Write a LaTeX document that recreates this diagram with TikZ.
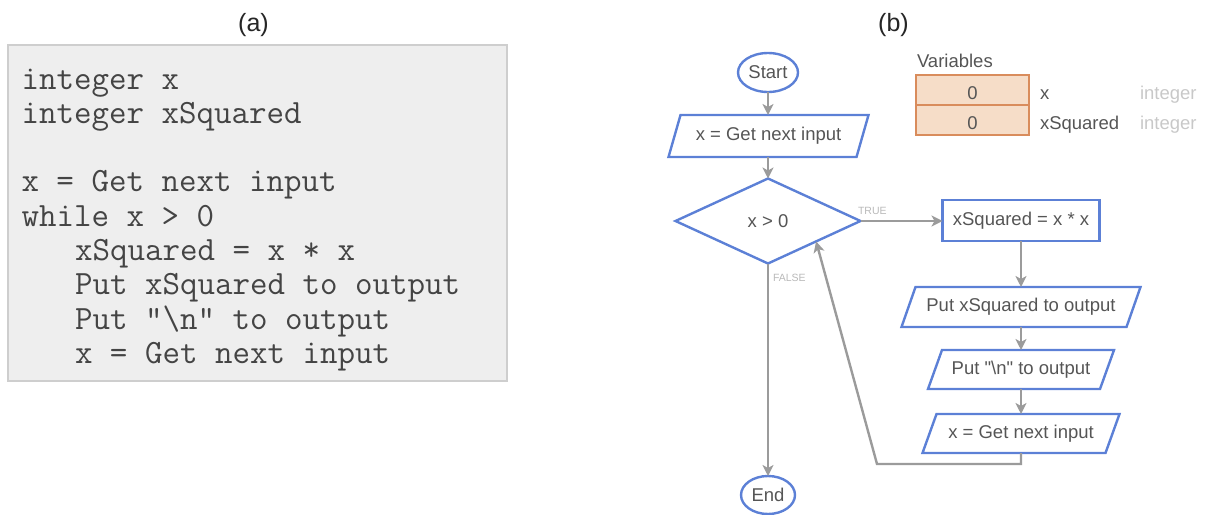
\documentclass[tikz,border=0pt]{standalone}
\usepackage{fontspec}
\setmainfont{Liberation Sans}
\usetikzlibrary{shapes.geometric,arrows.meta,calc}

\definecolor{flowblue}{RGB}{92,128,214}
\definecolor{linegray}{RGB}{155,155,155}
\definecolor{textgray}{RGB}{85,85,85}
\definecolor{codegray}{RGB}{68,68,68}
\definecolor{panelfill}{RGB}{238,238,238}
\definecolor{panelline}{RGB}{206,206,206}
\definecolor{varfill}{RGB}{246,221,200}
\definecolor{varline}{RGB}{217,140,92}
\definecolor{typegray}{RGB}{200,200,200}
\definecolor{labelgray}{RGB}{185,185,185}

% outline of an input/output parallelogram around a rectangular node
\newcommand{\slantframe}[2]{%
  \draw[ioline] ([xshift=#2]#1.north west) -- ([xshift=#2]#1.north east)
    -- ([xshift=-#2]#1.south east) -- ([xshift=-#2]#1.south west) -- cycle;}

\begin{document}
\begin{tikzpicture}[x=1pt,y=-1pt,
  every node/.style={inner sep=0pt, outer sep=0pt},
  codeline/.style={anchor=base west, font=\fontsize{34}{36}\ttfamily, text=codegray},
  caption/.style={anchor=base, font=\fontsize{25}{30}\selectfont, text=black!85},
  fltext/.style={font=\fontsize{18.5}{22}\selectfont, text=textgray},
  terminal/.style={fltext, ellipse, draw=flowblue, line width=2.4pt},
  process/.style={fltext, rectangle, draw=flowblue, line width=2.4pt},
  decision/.style={fltext, diamond, draw=flowblue, line width=2.4pt},
  iobox/.style={fltext, rectangle},
  ioline/.style={draw=flowblue, line width=2.4pt, line join=miter},
  flow/.style={draw=linegray, line width=2.4pt,
    -{Stealth[length=11pt,width=11pt,inset=3pt]}},
  branch/.style={anchor=base west, font=\fontsize{10.5}{12}\selectfont, text=labelgray},
  varcell/.style={fltext, draw=varline, fill=varfill, line width=2pt,
    minimum width=113, minimum height=30, text height=18pt, text depth=0pt},
  varname/.style={fltext, anchor=base west},
  vartype/.style={fltext, anchor=base west, text=typegray}
]
\useasboundingbox (0,0) rectangle (1210,514);

% ---------- (a) pseudocode ----------
\node[caption] (capa) at (253.5,31) {(a)};
\node[draw=panelline, fill=panelfill, line width=1.5pt, anchor=north west,
      minimum width=499, minimum height=336] (panel) at (8,45) {};
\node[codeline] (c1) at (21.5,89)    {integer x};
\node[codeline] (c2) at (21.5,123.3) {integer xSquared};
\node[codeline] (c3) at (21.5,191.9) {x = Get next input};
\node[codeline] (c4) at (21.5,226.2) {while x > 0};
\node[codeline] (c5) at (75,260.5)   {xSquared = x * x};
\node[codeline] (c6) at (75,294.8)   {Put xSquared to output};
\node[codeline] (c7) at (75,329.1)   {Put "\textbackslash n" to output};
\node[codeline] (c8) at (75,363.4)   {x = Get next input};

% ---------- (b) flowchart ----------
\node[caption] (capb) at (893.5,31) {(b)};

\node[terminal, minimum width=60, minimum height=39] (start) at (768,72.5) {Start};
\node[iobox, minimum width=188, minimum height=42] (in1) at (768.5,136) {x = Get next input};
\slantframe{in1}{6}
\node[decision, minimum width=185, minimum height=85] (test) at (768,221) {x > 0};
\node[process, minimum width=157, minimum height=41] (sq) at (1021,220.5) {xSquared = x * x};
\node[iobox, minimum width=225, minimum height=40] (out1) at (1021,307) {Put xSquared to output};
\slantframe{out1}{7}
\node[iobox, minimum width=172, minimum height=39] (out2) at (1021,369.5)
  {Put \textquotedbl\textbackslash n\textquotedbl{} to output};
\slantframe{out2}{7}
\node[iobox, minimum width=183, minimum height=39] (in2) at (1021,433.5) {x = Get next input};
\slantframe{in2}{7}
\node[terminal, minimum width=54, minimum height=38] (end) at (768,495) {End};

\node[branch] (truelbl) at (858,214) {TRUE};
\node[branch] (falselbl) at (773,281) {FALSE};

\draw[flow] (start.south) -- (start.south |- in1.north);
\draw[flow] (test.north |- in1.south) -- (test.north);
\draw[flow] (test.east) -- (test.east -| sq.west);
\draw[flow] (sq.south) -- (out1.north);
\draw[flow] (out1.south) -- (out2.north);
\draw[flow] (out2.south) -- (in2.north);
\coordinate (loopcorner) at (877,464);
\draw[flow] (in2.south) |- (loopcorner) -- ($(test.south)!0.52!(test.east)$);
\draw[flow] (test.south) -- (end.north);

% ---------- variables panel ----------
\node[varname] (varstitle) at (917,67) {Variables};
\node[varcell] (v1) at (972.5,90) {0};
\node[varcell] (v2) at (972.5,120) {0};
\node[varname] (n1) at (1040,0 |- v1.base) {x};
\node[varname] (n2) at (1040,0 |- v2.base) {xSquared};
\node[vartype] (t1) at (1140,0 |- v1.base) {integer};
\node[vartype] (t2) at (1140,0 |- v2.base) {integer};
\end{tikzpicture}
\end{document}
